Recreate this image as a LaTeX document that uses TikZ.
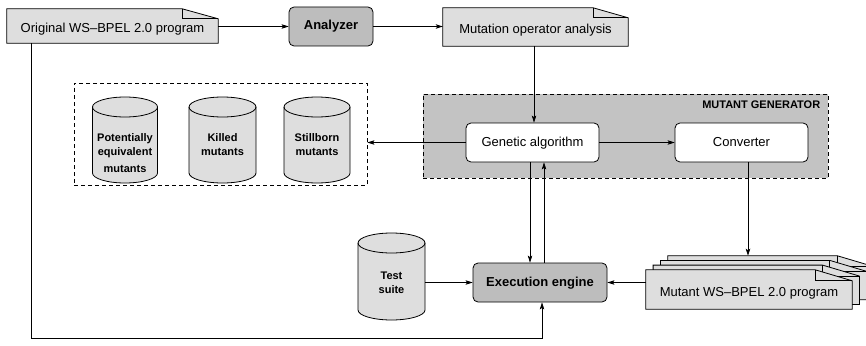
\documentclass[tikz,border=0pt]{standalone}
\usepackage{fontspec}
\setmainfont{Liberation Sans}
\usetikzlibrary{arrows.meta,backgrounds}
\definecolor{lightg}{HTML}{DEDEDE}
\definecolor{darkg}{HTML}{BDBDBD}
\definecolor{boxg}{HTML}{C3C3C3}
\tikzset{
  base/.style={inner sep=0pt, font=\fontsize{13}{15}\selectfont, text height=9.5pt, text depth=2.5pt},
  docnode/.style={base, text height=15.5pt, text depth=1.5pt},
  docshape/.style={draw, line width=0.8pt, fill=lightg},
  process/.style={base, draw, line width=0.8pt, rounded corners=5pt},
  dark/.style={process, fill=darkg, font=\fontsize{13}{15}\selectfont\bfseries},
  light/.style={process, fill=white},
  cyltext/.style={inner sep=0pt, align=center, font=\fontsize{11}{14}\selectfont\bfseries},
  cyl/.style={draw, line width=0.8pt, fill=lightg},
  dashbox/.style={draw, line width=0.8pt, dash pattern=on 4pt off 3pt},
  arr/.style={line width=0.8pt, -{Stealth[length=7pt,width=4.5pt,inset=1.5pt]}},
  ln/.style={line width=0.8pt},
}
\newcommand\docpath[3]{%
  \path[docshape] (#1.south west) -- (#1.north west) -- ([xshift=-#2]#1.north east) -- ([yshift=-#3]#1.north east) -- (#1.south east) -- cycle;
  \draw[ln] ([xshift=-#2]#1.north east) -- ([xshift=-#2,yshift=-#3]#1.north east) -- ([yshift=-#3]#1.north east);}
\newcommand\cylpath[4]{%
  \path[cyl] (#1-#4,#2-10) -- (#1-#4,#3+10) arc[start angle=180,end angle=360,x radius=#4pt,y radius=10pt] -- (#1+#4,#2-10) arc[start angle=0,end angle=180,x radius=#4pt,y radius=10pt] -- cycle;
  \draw[ln] (#1-#4,#2-10) arc[start angle=180,end angle=360,x radius=#4pt,y radius=10pt];}
\begin{document}
\begin{tikzpicture}[x=1pt,y=1pt]
\useasboundingbox (0,0) rectangle (866,-345);
% top row
\node[docnode, minimum width=211pt, minimum height=34pt] (orig) at (112.5,-26) {Original WS--BPEL 2.0 program};
\node[dark, minimum width=84pt, minimum height=39pt] (an) at (331,-26.5) {Analyzer};
\node[docnode, minimum width=185pt, minimum height=38pt] (moa) at (535.5,-27) {Mutation operator analysis};
% boxes
\node[dashbox, minimum width=293pt, minimum height=102pt] (store) at (220.5,-134) {};
\node[dashbox, fill=boxg, minimum width=405pt, minimum height=84pt] (mg) at (625.5,-136) {};
\node[anchor=north east, inner sep=0pt, font=\fontsize{11}{13}\selectfont\bfseries] (mgl) at ([xshift=-8pt,yshift=-7pt]mg.north east) {MUTANT GENERATOR};
\node[light, minimum width=133pt, minimum height=39pt] (ga) at (532.5,-142.5) {Genetic algorithm};
\node[light, minimum width=133pt, minimum height=39pt] (conv) at (741.5,-142.5) {Converter};
\node[dark, minimum width=134pt, minimum height=39pt] (ee) at (540,-282.5) {Execution engine};
% mutant documents
\foreach \i in {3,2,1} \node[inner sep=0pt, minimum width=206pt, minimum height=39pt] (md\i) at (749+7.3*\i,-289.5+4.7*\i) {};
\node[docnode, minimum width=206pt, minimum height=39pt] (md0) at (749,-289.5) {Mutant WS--BPEL 2.0 program};
\begin{scope}[on background layer]
  \docpath{orig}{36pt}{10pt}
  \docpath{moa}{35pt}{10pt}
  \docpath{md3}{37pt}{11pt}
  \docpath{md2}{37pt}{11pt}
  \docpath{md1}{37pt}{11pt}
  \docpath{md0}{37pt}{11pt}
\end{scope}
% cylinders
\cylpath{125}{-97}{-183}{32.5}
\node[cyltext] (pe) at (125,-153) {Potentially\\equivalent\\[3pt]mutants};
\cylpath{222.5}{-97}{-183}{33.5}
\node[cyltext] (km) at (222.5,-144.5) {Killed\\mutants};
\cylpath{317}{-97}{-183}{33}
\node[cyltext] (sm) at (317,-144.5) {Stillborn\\mutants};
\cylpath{391.5}{-233}{-320}{33.5}
\node[cyltext, minimum width=67pt] (ts) at (391.5,-283) {Test\\suite};
% connectors
\draw[arr] (orig.east |- an.west) -- (an.west);
\draw[arr] (an.east) -- (an.east -| moa.west);
\draw[arr] ([xshift=1.5pt]ga.north |- moa.south) -- ([xshift=1.5pt]ga.north);
\draw[arr] (ga.west) -- (ga.west -| store.east);
\draw[arr] (ga.east) -- (conv.west);
\draw[arr] ([xshift=-2.5pt]ga.south) -- ([xshift=-2.5pt]ga.south |- ee.north);
\draw[arr] ([xshift=4pt]ee.north) -- ([xshift=4pt]ee.north |- ga.south);
\draw[arr] ([xshift=6.5pt]conv.south) -- ([xshift=6.5pt]conv.south |- md3.north);
\draw[arr] (ts.east |- ee.west) -- (ee.west);
\draw[arr] (md0.west |- ee.east) -- (ee.east);
\draw[arr] ([xshift=25pt]orig.south west) -- ++(0,-295) -| ([xshift=2pt]ee.south);
\end{tikzpicture}
\end{document}
